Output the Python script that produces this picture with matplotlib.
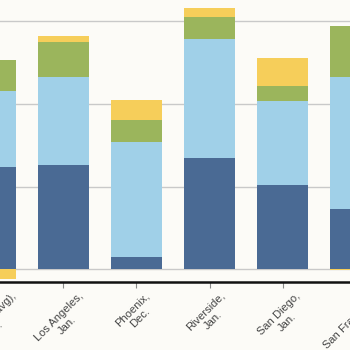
import numpy as np
import matplotlib
matplotlib.use("Agg")
import matplotlib.pyplot as plt

# categories (first and last are cut off by the frame in the reference)
cities = ["California (avg),\nJan.", "Los Angeles,\nJan.", "Phoenix,\nDec.",
          "Riverside,\nJan.", "San Diego,\nJan.", "San Francisco,\nJan."]

# stacked series (grid step = 10)
dark = [12.4, 12.6, 1.5, 13.4, 10.2, 7.3]
light = [9.1, 10.7, 13.9, 14.5, 10.1, 16.0]
green = [3.8, 4.2, 2.7, 2.6, 1.9, 6.1]
yellow = [-1.2, 0.7, 2.4, 1.05, 3.4, -0.1]

colors = ["#4a6a94", "#a0d0e8", "#9bb55c", "#f6ce5a"]
bg = "#fcfbf7"

W = 350.0
fig = plt.figure(figsize=(3.5, 3.5), dpi=100, facecolor=bg)

# axes wider than the figure so the outer bars are cropped like the reference
px_left, px_right = -45.0, 395.0
spacing = 73.1
x1_px = 63.3
ax = fig.add_axes([px_left / W, 0.1934, (px_right - px_left) / W, 0.8066])
ax.set_facecolor(bg)

x = np.arange(len(cities))
bottom_pos = np.zeros(len(cities))
bottom_neg = np.zeros(len(cities))
for series, c in zip([dark, light, green, yellow], colors):
    vals = np.array(series)
    base = np.where(vals >= 0, bottom_pos, bottom_neg)
    ax.bar(x, vals, bottom=base, width=0.7, color=c, zorder=3)
    bottom_pos = bottom_pos + np.clip(vals, 0, None)
    bottom_neg = bottom_neg + np.clip(vals, None, 0)

ax.set_xlim((px_left - x1_px) / spacing + 1, (px_right - x1_px) / spacing + 1)
ax.set_ylim(-1.57, 32.56)
ax.set_yticks([0, 10, 20, 30])
ax.yaxis.grid(True, color="#c9c9c9", linewidth=1.0, zorder=0)
ax.tick_params(axis="y", left=False, labelleft=False)

ax.set_xticks(x)
ax.set_xticklabels(cities, rotation=45, fontsize=8, color="#444444",
                   family="Liberation Sans")
ax.tick_params(axis="x", length=4, color="#888888", width=0.8, pad=2)

for s in ["left", "right", "top"]:
    ax.spines[s].set_visible(False)
ax.spines["bottom"].set_color("#111111")
ax.spines["bottom"].set_linewidth(1.8)

fig.savefig("out.png", dpi=100, facecolor=bg)
